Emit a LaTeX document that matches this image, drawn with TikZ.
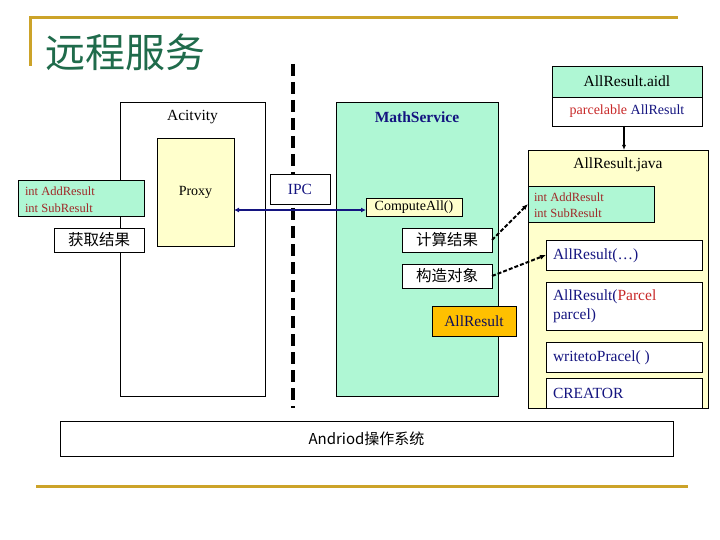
\documentclass[tikz,border=0pt]{standalone}
\usepackage{fontspec}
\setmainfont{Liberation Serif}
\newfontfamily\cjk{Noto Sans CJK SC}
\usetikzlibrary{arrows.meta,calc}
\definecolor{gold}{RGB}{204,163,41}
\definecolor{titlegreen}{RGB}{31,107,75}
\definecolor{mint}{RGB}{175,247,212}
\definecolor{paleyellow}{RGB}{255,255,204}
\definecolor{amber}{RGB}{255,192,0}
\definecolor{navyblue}{RGB}{20,20,128}
\definecolor{darkred}{RGB}{160,40,40}
\definecolor{brightred}{RGB}{200,40,40}
\newcommand{\szL}{\fontsize{15.5}{18}\selectfont}
\newcommand{\szM}{\fontsize{14}{16}\selectfont}
\newcommand{\szS}{\fontsize{12.5}{16}\selectfont}
\begin{document}
\begin{tikzpicture}[x=1pt,y=-1pt,
  box/.style={draw=black,line width=0.8pt,inner sep=0pt,outer sep=0pt,rectangle},
  txt/.style={inner sep=0pt,outer sep=0pt},
  goldline/.style={draw=gold,line width=3pt},
  dotarrow/.style={line width=2pt,dash pattern=on 4pt off 2pt,-{Latex[length=6pt,width=5pt]}}]
\useasboundingbox (0,0) rectangle (720,540);
% frame lines
\draw[goldline] (30,66) -- (30,18) -- (678,18);
\draw[goldline] (36,486) -- (688,486);
\node[txt,anchor=west,text=titlegreen] (title) at (45,52) {\cjk\fontsize{40}{40}\selectfont 远程服务};
% dashed divider
\coordinate (dtop) at (293,64);
\coordinate (dbot) at (293,408);
\draw[line width=4pt,dash pattern=on 12pt off 6pt] (dtop) -- (dbot);
% Activity side
\node[box,minimum width=145,minimum height=294] (act) at (192.5,249) {};
\node[txt] (acttxt) at (192.5,117) {\szL Acitvity};
\node[box,fill=mint,minimum width=126,minimum height=36] (lgreen) at (81,198) {};
\node[txt,anchor=west,text=darkred] (lg1) at (25,191) {\szS int AddResult};
\node[txt,anchor=west,text=darkred] (lg2) at (25,208) {\szS int SubResult};
\node[box,fill=white,minimum width=90,minimum height=24] (huoqu) at (99,240) {\cjk\fontsize{15.5}{16}\selectfont 获取结果};
\node[box,fill=paleyellow,minimum width=77,minimum height=108] (proxy) at (195.5,192) {\szM Proxy};
% Service side
\node[box,fill=mint,minimum width=162,minimum height=294] (math) at (417,249) {};
\node[txt,text=navyblue] (mathtxt) at (417,117) {\szL\bfseries MathService};
\node[box,fill=white,minimum width=60,minimum height=30] (ipc) at (300,189) {\szL\textcolor{navyblue}{IPC}};
\node[box,fill=paleyellow,minimum width=96,minimum height=18] (compute) at (414,207) {\szM ComputeAll()};
\node[box,fill=white,minimum width=90,minimum height=24] (jisuan) at (447,240) {\cjk\fontsize{15.5}{16}\selectfont 计算结果};
\node[box,fill=white,minimum width=90,minimum height=24] (gouzao) at (447,276) {\cjk\fontsize{15.5}{16}\selectfont 构造对象};
\node[box,fill=amber,minimum width=84,minimum height=30,text=navyblue!70!black] (allres) at (474,321) {\szL AllResult};
% aidl
\node[box,fill=mint,minimum width=150,minimum height=31] (aidlhead) at (627,81.5) {\szL AllResult.aidl};
\node[box,fill=white,minimum width=150,minimum height=29] (aidlbody) at (627,111.5) {\szM\textcolor{brightred}{parcelable} \textcolor{navyblue}{AllResult}};
% java
\node[box,fill=paleyellow,minimum width=180,minimum height=258] (java) at (618,279) {};
\node[txt] (javatxt) at (618,165) {\szL AllResult.java};
\node[box,fill=mint,minimum width=126,minimum height=36] (jgreen) at (591,204) {};
\node[txt,anchor=west,text=darkred] (jg1) at (534,197) {\szS int AddResult};
\node[box,draw=none,txt,anchor=west,text=darkred] (jg2) at (534,213) {\szS int SubResult};
\node[box,fill=white,minimum width=156,minimum height=30] (ctor1) at (624,255) {};
\node[txt,anchor=west,text=navyblue] (ctor1t) at (553,256) {\szL AllResult(\ldots)};
\node[box,fill=white,minimum width=156,minimum height=48] (ctor2) at (624,306) {};
\node[txt,anchor=west,text=navyblue] (ctor2a) at (553,297) {\szL AllResult(\textcolor{brightred}{Parcel}};
\node[txt,anchor=west,text=navyblue] (ctor2b) at (553,316) {\szL parcel)};
\node[box,fill=white,minimum width=156,minimum height=30] (write) at (624,357) {};
\node[txt,anchor=west,text=navyblue] (writet) at (553,358) {\szL writetoPracel( )};
\node[box,fill=white,minimum width=156,minimum height=30] (creator) at (624,393) {};
\node[txt,anchor=west,text=navyblue] (creatort) at (553,393) {\szL CREATOR};
\draw[line width=0.8pt] (java.south west) -- (java.south east);
% OS
\node[box,minimum width=613,minimum height=35] (os) at (366.5,438.5) {\cjk\fontsize{15}{16}\selectfont Andriod操作系统};
% connectors
\draw[navyblue,line width=1.5pt,{Latex[length=5pt,width=5pt]}-{Latex[length=5pt,width=5pt]}]
  ($(proxy.east |- compute.west)+(0,3)$) -- ($(compute.west)+(0,3)$);
\draw[line width=1.5pt,-{Latex[length=5pt,width=4pt]}]
  ($(aidlbody.south)+(-3,0)$) -- ($(aidlbody.south |- java.north)+(-3,0)$);
\draw[dotarrow] (jisuan.east) -- (jgreen.west);
\draw[dotarrow] (gouzao.east) -- (ctor1.west);
\end{tikzpicture}
\end{document}
